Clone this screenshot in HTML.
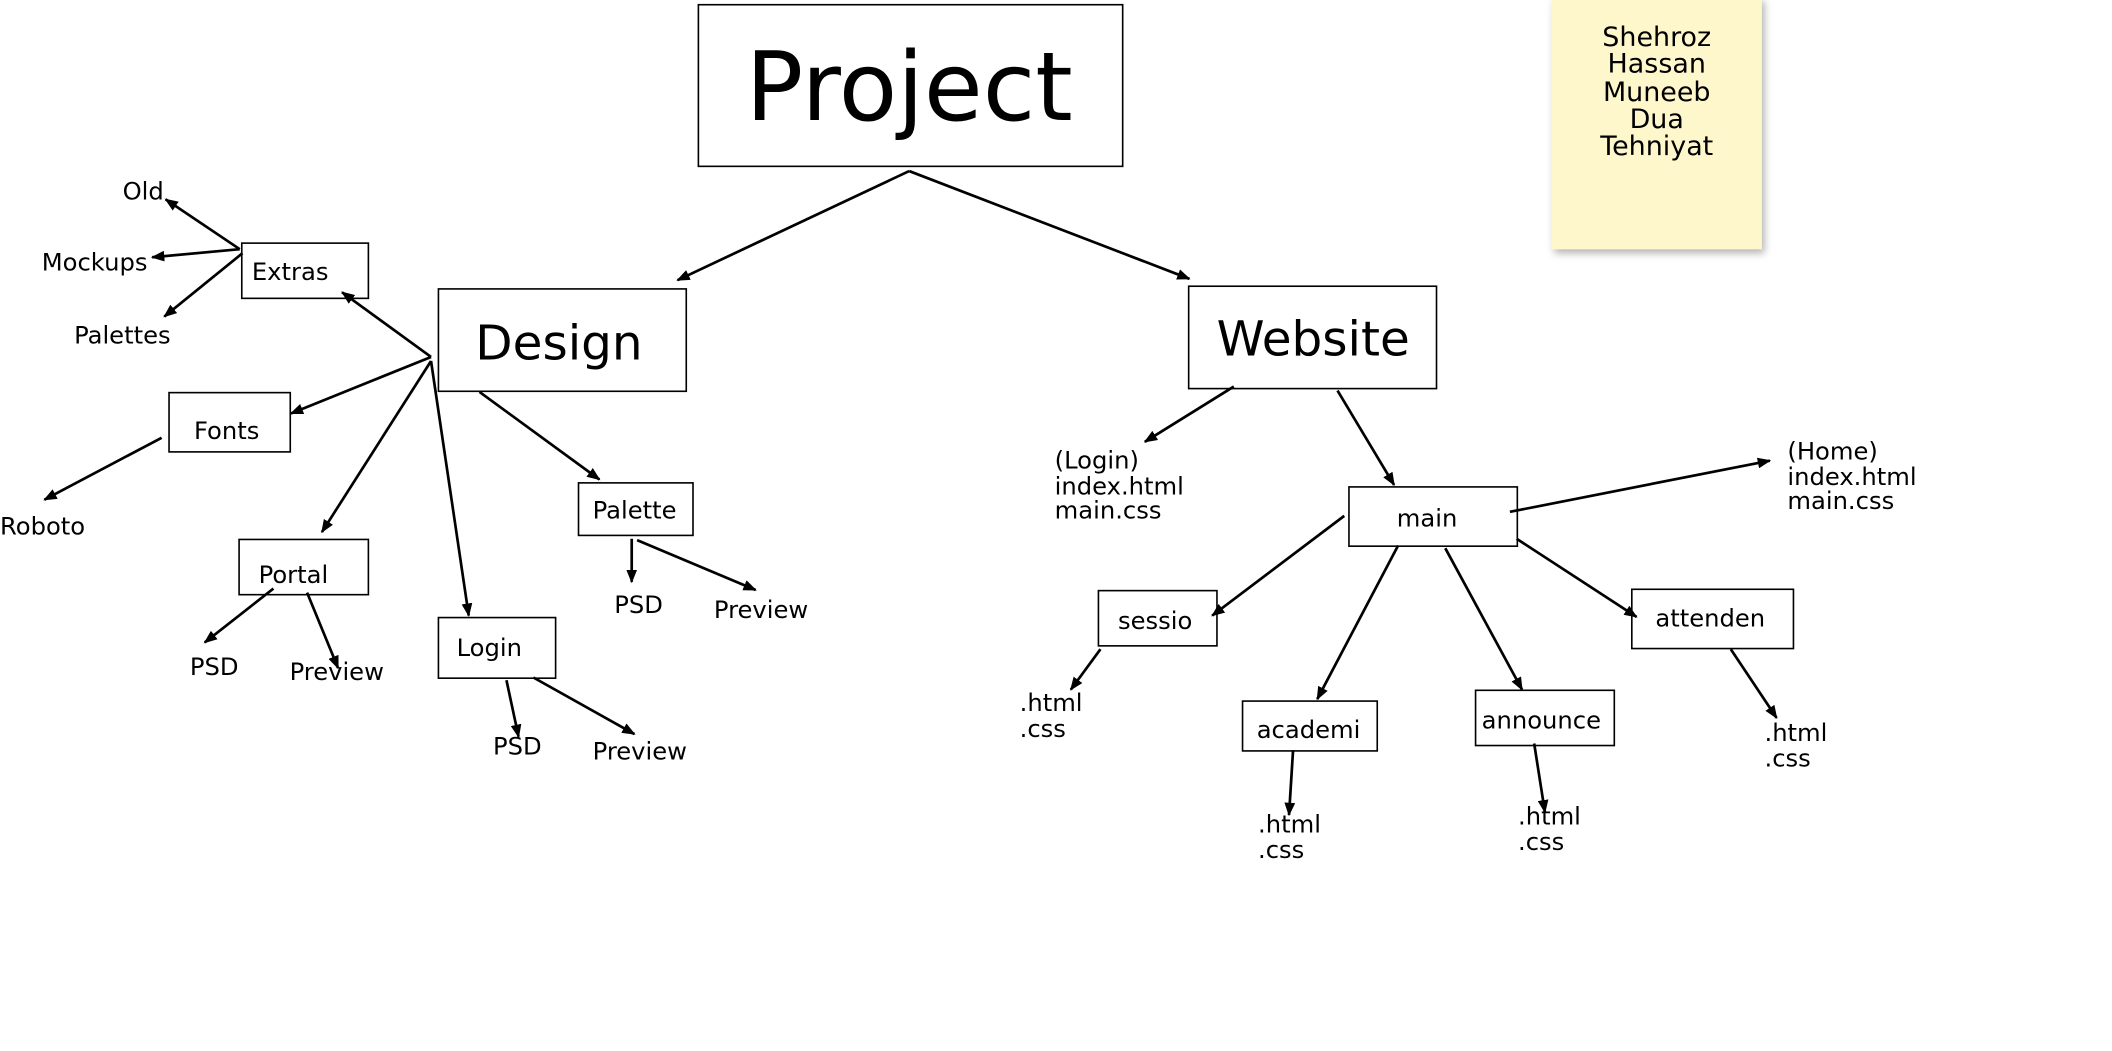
<!DOCTYPE html>
<html><head><style>html,body{margin:0;padding:0;background:#fff;overflow:hidden}svg{display:block}</style></head>
<body>
<svg width="2112" height="1051" viewBox="0 0 1568 780" preserveAspectRatio="xMinYMin meet" xmlns="http://www.w3.org/2000/svg" font-family="DejaVu Sans, Liberation Sans, sans-serif">
<defs>
<marker id="a" markerWidth="10" markerHeight="8" refX="9" refY="4" orient="auto" markerUnits="userSpaceOnUse"><path d="M0,0 L10,4 L0,8 z" fill="#000"/></marker>
<filter id="sh" x="-20%" y="-20%" width="140%" height="140%"><feDropShadow dx="2" dy="3" stdDeviation="3" flood-opacity="0.3"/></filter>
</defs>
<rect x="1152" y="-2" width="156" height="187" fill="#fff7cc" filter="url(#sh)"/>
<g font-size="20" text-anchor="middle"><text x="1230" y="34">Shehroz</text><text x="1230" y="54">Hassan</text><text x="1230" y="75">Muneeb</text><text x="1230" y="95">Dua</text><text x="1230" y="115">Tehniyat</text></g>
<g fill="none" stroke="#000" stroke-width="1.2">
<rect x="518.5" y="3.5" width="315" height="120"/>
<rect x="325.5" y="214.5" width="184" height="76"/>
<rect x="882.5" y="212.5" width="184" height="76"/>
<rect x="179.5" y="180.5" width="94" height="41"/>
<rect x="125.5" y="291.5" width="90" height="44"/>
<rect x="177.5" y="400.5" width="96" height="41"/>
<rect x="325.5" y="458.5" width="87" height="45"/>
<rect x="429.5" y="358.5" width="85" height="39"/>
<rect x="1001.5" y="361.5" width="125" height="44"/>
<rect x="815.5" y="438.5" width="88" height="41"/>
<rect x="922.5" y="520.5" width="100" height="37"/>
<rect x="1095.5" y="512.5" width="103" height="41"/>
<rect x="1211.5" y="437.5" width="120" height="44"/>
</g>
<text x="675" y="89" font-size="71" text-anchor="middle">Project</text>
<text x="415" y="267" font-size="36" text-anchor="middle">Design</text>
<text x="975" y="264" font-size="36" text-anchor="middle">Website</text>
<g font-size="18">
<text x="187" y="208">Extras</text><text x="144" y="326">Fonts</text><text x="192" y="433">Portal</text>
<text x="339" y="487">Login</text><text x="440" y="385">Palette</text><text x="1037" y="391">main</text>
<text x="830" y="467">sessio</text><text x="933" y="548">academi</text><text x="1100" y="541">announce</text><text x="1229" y="465">attenden</text>
<text x="91" y="148">Old</text><text x="31" y="201">Mockups</text><text x="55" y="255">Palettes</text><text x="0" y="397">Roboto</text>
<text x="141" y="501">PSD</text><text x="215" y="505">Preview</text><text x="366" y="560">PSD</text><text x="440" y="564">Preview</text>
<text x="456" y="455">PSD</text><text x="530" y="459">Preview</text>
<text x="783" y="348">(Login)</text><text x="783" y="367">index.html</text><text x="783" y="385">main.css</text>
<text x="1327" y="341">(Home)</text><text x="1327" y="360">index.html</text><text x="1327" y="378">main.css</text>
<text x="757" y="528">.html</text><text x="757" y="547">.css</text>
<text x="934" y="618">.html</text><text x="934" y="637">.css</text>
<text x="1127" y="612">.html</text><text x="1127" y="631">.css</text>
<text x="1310" y="550">.html</text><text x="1310" y="569">.css</text>
</g>
<g stroke="#000" stroke-width="2" marker-end="url(#a)">
<line x1="675" y1="127" x2="503" y2="208"/><line x1="675" y1="127" x2="883" y2="207"/>
<line x1="178" y1="185" x2="123" y2="148"/><line x1="178" y1="185" x2="113" y2="191"/><line x1="180" y1="188" x2="122" y2="235"/>
<line x1="320" y1="265" x2="254" y2="217"/><line x1="320" y1="265" x2="216" y2="307"/><line x1="320" y1="268" x2="239" y2="395"/><line x1="320" y1="268" x2="348" y2="457"/>
<line x1="120" y1="325" x2="33" y2="371"/><line x1="356" y1="291" x2="445" y2="356"/>
<line x1="469" y1="400" x2="469" y2="432"/><line x1="473" y1="401" x2="561" y2="438"/>
<line x1="203" y1="437" x2="152" y2="477"/><line x1="228" y1="440" x2="251" y2="496"/>
<line x1="376" y1="505" x2="385" y2="547"/><line x1="396" y1="503" x2="471" y2="545"/>
<line x1="916" y1="287" x2="850" y2="328"/><line x1="993" y1="290" x2="1035" y2="360"/>
<line x1="1121" y1="380" x2="1314" y2="342"/><line x1="998" y1="383" x2="900" y2="457"/>
<line x1="1038" y1="405" x2="978" y2="519"/><line x1="1073" y1="407" x2="1130" y2="512"/><line x1="1126" y1="400" x2="1215" y2="458"/>
<line x1="817" y1="482" x2="795" y2="512"/><line x1="960" y1="557" x2="957" y2="605"/>
<line x1="1139" y1="552" x2="1147" y2="603"/><line x1="1285" y1="482" x2="1319" y2="533"/>
</g>
</svg>
</body></html>
